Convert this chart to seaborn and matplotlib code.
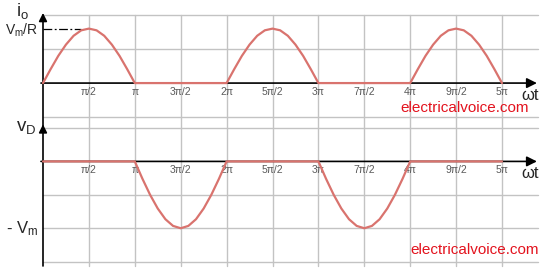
import numpy as np
import pandas as pd
import matplotlib
matplotlib.use("Agg")
import matplotlib.pyplot as plt
import matplotlib.transforms as mtransforms
import seaborn as sns

# ---------------- data ----------------
# omega*t sampled in units of pi (0 .. 5 pi, step pi/12)
wt_pi = np.linspace(0, 5, 61)

# output current i_o (grid units; peak Vm/R = 1.6)
io_vals = [0, 0.41, 0.80, 1.13, 1.39, 1.55, 1.60, 1.55, 1.39, 1.13, 0.80, 0.41, 0,
           0, 0, 0, 0, 0, 0, 0, 0, 0, 0, 0,
           0, 0.41, 0.80, 1.13, 1.39, 1.55, 1.60, 1.55, 1.39, 1.13, 0.80, 0.41, 0,
           0, 0, 0, 0, 0, 0, 0, 0, 0, 0, 0,
           0, 0.41, 0.80, 1.13, 1.39, 1.55, 1.60, 1.55, 1.39, 1.13, 0.80, 0.41, 0]

# diode voltage v_D (grid units; peak -Vm = -2)
vd_vals = [0, 0, 0, 0, 0, 0, 0, 0, 0, 0, 0, 0,
           0, -0.52, -1.00, -1.41, -1.73, -1.93, -2.00, -1.93, -1.73, -1.41, -1.00, -0.52, 0,
           0, 0, 0, 0, 0, 0, 0, 0, 0, 0, 0,
           0, -0.52, -1.00, -1.41, -1.73, -1.93, -2.00, -1.93, -1.73, -1.41, -1.00, -0.52, 0,
           0, 0, 0, 0, 0, 0, 0, 0, 0, 0, 0, 0]

tick_pos = [0.5, 1, 1.5, 2, 2.5, 3, 3.5, 4, 4.5, 5]
tick_labels = ["π/2", "π", "3π/2", "2π", "5π/2", "3π", "7π/2", "4π", "9π/2", "5π"]

top_grid_y = [-1, 1, 2]
bot_grid_y = [1, -1, -2, -3]

df = pd.DataFrame({"wt": wt_pi, "io": io_vals, "vd": vd_vals})

# ---------------- style ----------------
sns.set_style("white")
plt.rcParams["font.family"] = ["Liberation Sans", "DejaVu Sans"]
plt.rcParams["mathtext.default"] = "regular"

W, H = 546, 268
fig = plt.figure(figsize=(W / 100, H / 100), dpi=100)
fig.patch.set_facecolor("white")

def fx(px):
    return px / W

def fy(py):
    return 1 - py / H

XMAX = 5.392
ax1 = fig.add_axes([fx(43), fy(128), (538 - 43) / W, (128 - 15) / H])
ax2 = fig.add_axes([fx(43), fy(266), (538 - 43) / W, (266 - 128) / H])
ax1.set_ylim(-1.32, 2.0)
ax2.set_ylim(-3.13, 1.0)

GRID = "#c3c3c3"
CURVE = "#d9736e"

for ax, gy in ((ax1, top_grid_y), (ax2, bot_grid_y)):
    ax.set_xlim(0, XMAX)
    ax.set_facecolor("white")
    for s in ax.spines.values():
        s.set_visible(False)
    ax.set_xticks(tick_pos)
    ax.set_yticks(gy)
    ax.tick_params(length=0, labelbottom=False, labelleft=False)
    ax.grid(True, color=GRID, lw=1.0)
    for gl in ax.get_xgridlines() + ax.get_ygridlines():
        gl.set_clip_on(False)
    # x axis with arrow
    ax.annotate("", xy=(5.38, 0), xytext=(-0.022, 0), xycoords="data",
                arrowprops=dict(arrowstyle="-|>", color="black", lw=1.2,
                                mutation_scale=15, shrinkA=0, shrinkB=0),
                annotation_clip=False, zorder=3)
    # tick labels under the axis
    off = mtransforms.offset_copy(ax.transData, fig=fig, x=0, y=-8.5, units="dots")
    for p, lab in zip(tick_pos, tick_labels):
        ax.text(p, 0, lab, transform=off, ha="center", va="center",
                fontsize=7.5, color="#5a5a5a", zorder=4)

# y axes with arrows
ax1.annotate("", xy=(0, 2.06), xytext=(0, -1.32), xycoords="data",
             arrowprops=dict(arrowstyle="-|>", color="black", lw=1.2,
                             mutation_scale=12, shrinkA=0, shrinkB=0),
             annotation_clip=False, zorder=3)
ax2.annotate("", xy=(0, 1.11), xytext=(0, -3.13), xycoords="data",
             arrowprops=dict(arrowstyle="-|>", color="black", lw=1.2,
                             mutation_scale=12, shrinkA=0, shrinkB=0),
             annotation_clip=False, zorder=3)

# curves
sns.lineplot(data=df, x="wt", y="io", ax=ax1, color=CURVE, lw=1.6,
             estimator=None, sort=False, zorder=5)
sns.lineplot(data=df, x="wt", y="vd", ax=ax2, color=CURVE, lw=1.6,
             estimator=None, sort=False, zorder=5)
for ax in (ax1, ax2):
    ax.set_xlabel("")
    ax.set_ylabel("")
    for ln in ax.lines:
        ln.set_clip_on(False)

# Vm/R guide line
io_peak = max(io_vals)
ax1.hlines(io_peak, 0, 0.41, colors="black", lw=0.9,
           linestyles=(0, (7, 2, 1.5, 2)), zorder=4)

# labels
fig.text(fx(16), fy(11), "$i_o$", fontsize=13.5, ha="left", va="center")
fig.text(fx(38), fy(30), "$V_m$/R", fontsize=10, ha="right", va="center")
fig.text(fx(16), fy(128), "$v_D$", fontsize=13.5, ha="left", va="center")
fig.text(fx(38), fy(229), "- $V_m$", fontsize=12, ha="right", va="center")
fig.text(fx(521), fy(95), "ωt", fontsize=12, ha="left", va="center")
fig.text(fx(521), fy(174), "ωt", fontsize=12, ha="left", va="center")
fig.text(fx(400), fy(108), "electricalvoice.com", fontsize=11, color="#e3131e",
         ha="left", va="center")
fig.text(fx(410), fy(250), "electricalvoice.com", fontsize=11, color="#e3131e",
         ha="left", va="center")

fig.savefig("out.png", dpi=100, facecolor="white")
